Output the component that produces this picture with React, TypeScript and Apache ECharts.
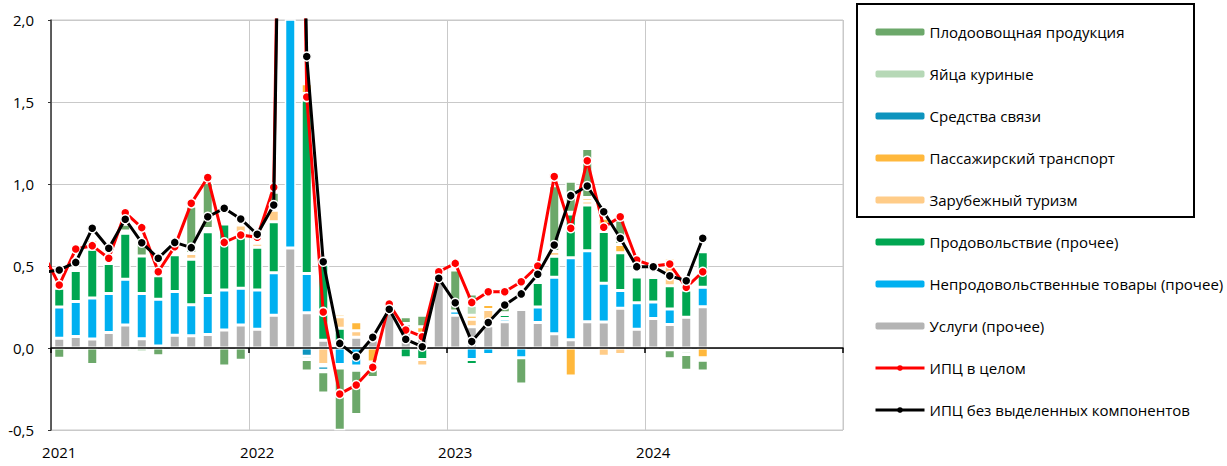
import React, { useEffect, useRef } from "react";
import * as echarts from "echarts";

// Categories: Dec 2020 (only partly visible) .. Dec 2024
const months: string[] = [];
months.push("2020-12");
for (const y of [2021, 2022, 2023, 2024]) {
  for (let m = 1; m <= 12; m++) months.push(`${y}-${m < 10 ? "0" + m : m}`);
}

const yTicks = [-0.5, 0, 0.5, 1.0, 1.5, 2.0];

// Monthly contributions, Jan 2021 .. Apr 2024 (p.p.)
const services = [0.06, 0.07, 0.055, 0.095, 0.14, 0.057, 0.012, 0.078, 0.074, 0.083, 0.11, 0.14, 0.114, 0.2, 0.61, 0.215, 0.048, 0, 0.065, 0.05, 0.21, 0.15, 0.09, 0.45, 0.2, 0.13, 0.135, 0.16, 0.235, 0.155, 0.087, 0.05, 0.16, 0.158, 0.243, 0.114, 0.18, 0.144, 0.187, 0.252];
const nonFood = [0.19, 0.213, 0.25, 0.238, 0.279, 0.276, 0.285, 0.266, 0.189, 0.237, 0.244, 0.224, 0.24, 0.259, 3.0, 0.24, 0, -0.1, -0.11, 0, 0.012, 0, 0, 0, 0.025, -0.07, -0.04, 0.02, -0.06, 0.095, 0.345, 0.5, 0.433, 0.237, 0.108, 0.162, 0.1, 0.094, -0.01, 0.118];
const food = [0.114, 0.189, 0.297, 0.183, 0.28, 0.228, 0.143, 0.224, 0.278, 0.389, 0.402, 0.336, 0.26, 0.311, 1.5, 1.057, 0.462, 0.12, 0, 0, 0, -0.06, -0.07, -0.015, 0, -0.03, 0, 0.025, 0, 0.15, 0.127, 0.267, 0.279, 0.316, 0.23, 0.157, 0.15, 0.142, 0.167, 0.217];
const tourism = [0, 0.015, 0.06, -0.012, -0.015, 0, 0, -0.008, 0.035, 0.01, 0, 0.05, 0.025, 0.07, 0, 0.04, -0.1, 0.07, 0.04, 0, 0, 0, -0.04, 0, 0, 0.045, 0.1, 0, 0, 0.012, 0.03, 0, 0.025, -0.05, -0.04, 0, -0.01, 0.15, 0, 0];
const transport = [0, 0, 0, 0, 0, 0, 0, 0, 0, 0.01, 0, 0, 0.01, 0, 0, 0.06, -0.01, 0.02, 0.055, -0.085, 0, 0, 0.04, 0, 0, 0.025, 0.03, 0, 0, 0.015, 0, -0.17, 0.02, 0.08, 0.05, 0, 0, 0.02, 0, -0.06];
const telecom = [0, 0, 0, 0, 0, 0, 0, 0, 0, 0, 0, 0, 0, 0, 0, -0.05, -0.025, -0.012, -0.015, 0, 0, -0.015, 0, 0, 0, -0.015, 0, 0, 0, 0, 0, 0, 0, 0, 0, 0, 0, 0, -0.01, 0];
const eggs = [0, 0, 0, -0.01, 0.015, -0.025, 0, 0, 0, 0, 0, 0, 0, 0.02, 0, -0.02, -0.01, -0.01, -0.01, -0.02, 0, 0, -0.01, -0.005, 0, 0.06, 0.01, 0.01, 0.01, -0.01, 0, 0.01, 0, 0, 0, 0, 0.01, -0.01, -0.02, -0.015];
const fruitVeg = [-0.063, 0, -0.1, 0, 0.04, 0.11, -0.047, 0, 0.29, 0.28, -0.11, -0.075, 0, 0.09, 0, -0.07, -0.13, -0.38, -0.27, -0.075, 0, 0.04, 0.07, 0, 0.25, 0.07, 0, 0.045, -0.16, 0, 0.4, 0.19, 0.3, 0, 0.15, 0, 0.01, -0.055, -0.095, -0.065];

// Lines: Dec 2020 value first, then Jan 2021 .. Apr 2024
const cpiTotal = [0.58, 0.384, 0.604, 0.624, 0.547, 0.825, 0.734, 0.465, 0.618, 0.882, 1.04, 0.644, 0.689, 0.675, 0.98, 7.61, 1.53, 0.22, -0.28, -0.226, -0.118, 0.268, 0.11, 0.069, 0.465, 0.516, 0.278, 0.343, 0.343, 0.404, 0.5, 1.045, 0.73, 1.142, 0.736, 0.8, 0.536, 0.5, 0.512, 0.37, 0.465];
const cpiCore = [0.46, 0.476, 0.522, 0.73, 0.608, 0.785, 0.642, 0.547, 0.644, 0.612, 0.8, 0.852, 0.787, 0.693, 0.872, 7.2, 1.777, 0.526, 0.028, -0.053, 0.065, 0.236, 0.053, 0.008, 0.425, 0.276, 0.039, 0.155, 0.262, 0.33, 0.45, 0.628, 0.929, 0.988, 0.831, 0.669, 0.496, 0.495, 0.44, 0.41, 0.669];

const FONT = "Open Sans";

const barDefs = [
  { name: "Услуги (прочее)", data: services, color: "#b4b4b4" },
  { name: "Непродовольственные товары (прочее)", data: nonFood, color: "#00b0f0" },
  { name: "Продовольствие (прочее)", data: food, color: "#00a651" },
  { name: "Зарубежный туризм", data: tourism, color: "#ffcc88" },
  { name: "Пассажирский транспорт", data: transport, color: "#ffb83c" },
  { name: "Средства связи", data: telecom, color: "#0d94be" },
  { name: "Яйца куриные", data: eggs, color: "#b6d8b6" },
  { name: "Плодоовощная продукция", data: fruitVeg, color: "#6ca86a" },
];

const legendOrder = [
  "Плодоовощная продукция",
  "Яйца куриные",
  "Средства связи",
  "Пассажирский транспорт",
  "Зарубежный туризм",
  "Продовольствие (прочее)",
  "Непродовольственные товары (прочее)",
  "Услуги (прочее)",
  "ИПЦ в целом",
  "ИПЦ без выделенных компонентов",
];

const yearStart = (idx: number) => idx % 12 === 1;

export default function App() {
  const ref = useRef<HTMLDivElement>(null);
  useEffect(() => {
    document.body.style.margin = "0";
    if (!ref.current) return;
    const chart = echarts.init(ref.current, undefined, { renderer: "svg" });
    const bars = barDefs.map((b) => ({
      type: "bar",
      name: b.name,
      stack: "total",
      xAxisIndex: 0,
      yAxisIndex: 0,
      barWidth: 11,
      data: [null, ...b.data.map((v) => (v === 0 ? null : v))],
      itemStyle: { color: b.color, borderColor: "#ffffff", borderWidth: 1.5 },
      emphasis: { disabled: true },
      z: 2,
    }));
    const lines = [
      { name: "ИПЦ в целом", data: cpiTotal, color: "#ff0000", z: 12 },
      { name: "ИПЦ без выделенных компонентов", data: cpiCore, color: "#000000", z: 13 },
    ].map((l) => ({
      type: "line",
      name: l.name,
      data: l.data,
      xAxisIndex: 0,
      yAxisIndex: 0,
      symbol: "circle",
      symbolSize: 9,
      lineStyle: { color: l.color, width: 3 },
      itemStyle: { color: l.color, borderColor: "#ffffff", borderWidth: 1.5 },
      emphasis: { disabled: true },
      clip: true,
      z: l.z,
    }));
    chart.setOption({
      animation: false,
      grid: {
        left: 51,
        top: 20,
        width: 792,
        height: 410,
        show: true,
        borderColor: "#c9c9c9",
        borderWidth: 1,
        containLabel: false,
      },
      xAxis: [
        {
          type: "category",
          data: months,
          min: 1,
          position: "bottom",
          axisLine: { show: false, onZero: false },
          axisTick: { show: false },
          axisLabel: {
            interval: yearStart,
            formatter: (v: string) => v.slice(0, 4),
            fontFamily: FONT,
            fontSize: 15,
            color: "#000",
            margin: 14,
          },
          splitLine: { show: true, interval: yearStart, lineStyle: { color: "#c9c9c9", width: 1 } },
        },
        {
          type: "category",
          data: months,
          min: 1,
          position: "bottom",
          z: 10,
          axisLine: { show: true, onZero: true, lineStyle: { color: "#000", width: 1.5 } },
          axisTick: { show: true, interval: yearStart, length: 5, lineStyle: { color: "#000", width: 1.5 } },
          axisLabel: { show: false },
          splitLine: { show: false },
        },
      ],
      yAxis: {
        type: "value",
        min: yTicks[0],
        max: yTicks[yTicks.length - 1],
        interval: 0.5,
        axisLine: { show: true, onZero: false, lineStyle: { color: "#333", width: 1.5 } },
        axisTick: { show: true, length: 3, lineStyle: { color: "#333" } },
        axisLabel: {
          formatter: (v: number) => v.toFixed(1).replace(".", ","),
          fontFamily: FONT,
          fontSize: 15,
          color: "#000",
          margin: 17,
        },
        splitLine: { show: true, lineStyle: { color: "#c9c9c9", width: 1 } },
      },
      legend: {
        orient: "vertical",
        left: 869,
        top: 17,
        itemWidth: 49,
        itemHeight: 7,
        itemGap: 22,
        selectedMode: false,
        data: legendOrder,
        itemStyle: { borderWidth: 0 },
        lineStyle: { width: 3 },
        textStyle: { fontFamily: FONT, fontSize: 15, color: "#000", lineHeight: 20 },
      },
      graphic: [
        {
          type: "rect",
          silent: true,
          z: 100,
          shape: { x: 857, y: 4, width: 337, height: 213 },
          style: { fill: "transparent", stroke: "#000", lineWidth: 2 },
        },
      ],
      series: [...bars, ...lines],
    });
    return () => chart.dispose();
  }, []);
  return <div ref={ref} style={{ width: 1227, height: 466 }} />;
}
